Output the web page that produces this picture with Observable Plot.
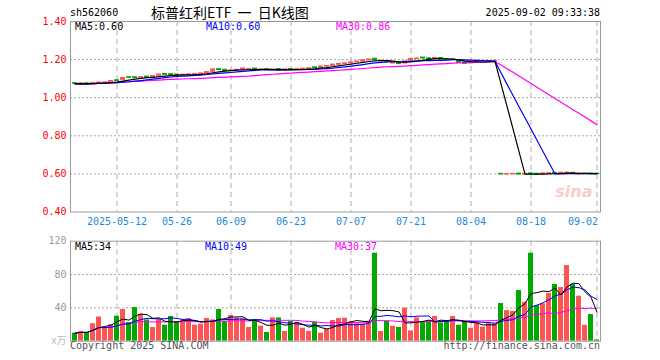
<!DOCTYPE html>
<html><head><meta charset="utf-8">
<script src="https://cdn.jsdelivr.net/npm/d3@7"></script>
<script src="https://cdn.jsdelivr.net/npm/@observablehq/plot@0.6"></script>
<style>
body{margin:0;background:#fff;}
#wrap{position:relative;width:660px;height:360px;overflow:hidden;font-family:"DejaVu Sans Mono",monospace;}
#wrap svg{position:absolute;left:0;}
.t{position:absolute;font-size:10px;line-height:12px;white-space:nowrap;font-family:"DejaVu Sans Mono",monospace;}
</style></head><body><div id="wrap"></div>
<script>
const dates = ["04-28","04-29","04-30","05-06","05-07","05-08","05-09","05-12","05-13","05-14","05-15","05-16","05-19","05-20","05-21","05-22","05-23","05-26","05-27","05-28","05-29","05-30","06-03","06-04","06-05","06-06","06-09","06-10","06-11","06-12","06-13","06-16","06-17","06-18","06-19","06-20","06-23","06-24","06-25","06-26","06-27","06-30","07-01","07-02","07-03","07-04","07-07","07-08","07-09","07-10","07-11","07-14","07-15","07-16","07-17","07-18","07-21","07-22","07-23","07-24","07-25","07-28","07-29","07-30","07-31","08-01","08-04","08-05","08-06","08-07","08-08","08-11","08-12","08-13","08-14","08-15","08-18","08-19","08-20","08-21","08-22","08-25","08-26","08-27","08-28","08-29","09-01","09-02"];
const open = [1.076,1.073,1.075,1.074,1.077,1.078,1.080,1.091,1.094,1.107,
1.107,1.104,1.110,1.107,1.116,1.124,1.123,1.121,1.117,1.120,
1.122,1.124,1.127,1.136,1.149,1.146,1.140,1.143,1.148,1.148,
1.152,1.145,1.149,1.145,1.150,1.144,1.150,1.147,1.150,1.152,
1.159,1.157,1.163,1.166,1.173,1.176,1.181,1.186,1.190,1.196,
1.204,1.191,1.192,1.180,1.181,1.180,1.196,1.203,1.210,1.206,
1.204,1.208,1.202,1.198,1.192,1.185,1.180,1.188,1.190,1.190,
1.191,0.600,0.597,0.598,0.601,0.597,0.602,0.600,0.598,0.601,
0.605,0.603,0.604,0.605,0.598,0.599,0.602,0.601];
const high = [1.077,1.077,1.076,1.079,1.081,1.082,1.089,1.094,1.105,1.110,
1.110,1.109,1.111,1.114,1.124,1.126,1.126,1.122,1.122,1.124,
1.126,1.129,1.136,1.150,1.152,1.149,1.145,1.148,1.156,1.154,
1.153,1.149,1.150,1.150,1.151,1.150,1.151,1.152,1.154,1.156,
1.161,1.165,1.168,1.176,1.179,1.182,1.186,1.191,1.198,1.203,
1.206,1.196,1.193,1.184,1.183,1.192,1.206,1.208,1.211,1.208,
1.210,1.209,1.204,1.203,1.193,1.186,1.190,1.192,1.193,1.194,
1.195,0.601,0.601,0.602,0.602,0.601,0.603,0.601,0.604,0.605,
0.606,0.608,0.609,0.606,0.602,0.603,0.603,0.602];
const low = [1.071,1.072,1.069,1.073,1.075,1.077,1.079,1.085,1.092,1.101,
1.101,1.103,1.104,1.106,1.115,1.117,1.116,1.114,1.116,1.119,
1.120,1.123,1.126,1.135,1.143,1.138,1.139,1.142,1.147,1.146,
1.143,1.144,1.142,1.144,1.142,1.143,1.144,1.146,1.149,1.151,
1.153,1.156,1.162,1.165,1.172,1.175,1.180,1.185,1.189,1.195,
1.196,1.190,1.184,1.178,1.173,1.179,1.195,1.202,1.203,1.200,
1.203,1.199,1.196,1.197,1.180,1.176,1.179,1.187,1.189,1.189,
1.190,0.596,0.596,0.597,0.596,0.596,0.597,0.596,0.597,0.600,
0.601,0.602,0.603,0.600,0.594,0.598,0.598,0.598];
const close = [1.073,1.075,1.071,1.077,1.079,1.080,1.087,1.088,1.103,1.105,
1.104,1.107,1.106,1.113,1.121,1.121,1.119,1.117,1.120,1.122,
1.124,1.127,1.134,1.148,1.146,1.141,1.143,1.146,1.153,1.150,
1.146,1.147,1.145,1.148,1.144,1.148,1.146,1.150,1.152,1.154,
1.156,1.163,1.166,1.173,1.177,1.180,1.185,1.189,1.196,1.200,
1.198,1.194,1.187,1.182,1.177,1.190,1.203,1.205,1.206,1.203,
1.208,1.201,1.198,1.201,1.184,1.178,1.188,1.190,1.191,1.192,
1.193,0.598,0.599,0.600,0.597,0.600,0.599,0.597,0.602,0.603,
0.603,0.606,0.606,0.601,0.600,0.601,0.600,0.600];
const volume = [9.6,11.6,10.4,21,29,16.4,19.6,30,38,22.4,
40.4,32.4,25.6,16.4,25.6,19.2,29.6,23.6,25.6,26.8,
19.2,20.4,27.2,25.6,38,23.6,30.8,27.6,26.8,16.4,
23.6,18,10.4,28,28,11.6,23.6,22,15.6,11.6,
22.8,9.6,14,24.8,27.2,27.6,23.2,21,20.4,24,
105.6,11.6,24,18,16.4,39.6,12.4,28,22.4,24.4,
29.6,22,24.4,29.6,19.2,23.6,15.6,22,16.8,21,
21,45.2,36.8,35.6,60.8,46.8,105.6,42.8,44.8,57.2,
68,64.4,90.8,68,54,19,32,1.5];
const tickDates = ["05-12","05-26","06-09","06-23","07-07","07-21","08-04","08-18","09-02"];
const tickLabels = ["2025-05-12","05-26","06-09","06-23","07-07","07-21","08-04","08-18","09-02"];
const priceTicks = [1.40,1.20,1.00,0.80,0.60,0.40];
const priceGrid = [1.20,1.00,0.80,0.60];
const volTicks = [120,80,40];
const volGrid = [80,40];

const RED = "#ff5454", GREEN = "#00a800", BLUE_TXT = "#1e88d8";
const rows = dates.map((d,i)=>({date:d, open:open[i], high:high[i], low:low[i], close:close[i], vol:volume[i], up: close[i] >= open[i]}));
const ups = rows.filter(r=>r.up), downs = rows.filter(r=>!r.up);
const xOpts = () => ({type:"band", domain:dates, range:[70,600], paddingInner:0.17, paddingOuter:0.05, axis:null});
const style = {fontFamily:"DejaVu Sans Mono, monospace", fontSize:"10px", background:"transparent", overflow:"visible"};
const dashed = {stroke:"#b0b0b0", strokeDasharray:"5,4"};
const dotted = {stroke:"#a8a8a8", strokeDasharray:"2,2"};

const pricePlot = Plot.plot({
  width:660, height:232, marginTop:21, marginBottom:20.5, marginLeft:70, marginRight:60,
  style, x:xOpts(), y:{domain:[0.4,1.4], axis:null},
  marks:[
    Plot.ruleY(priceGrid, dotted),
    Plot.ruleX(tickDates, dashed),
    Plot.text(["sina"], {frameAnchor:"bottom-right", lineAnchor:"middle", dx:-8, dy:-20, fill:"#f6cccc", fontSize:16, fontStyle:"italic", fontWeight:"bold", fontFamily:"DejaVu Sans"}),
    Plot.ruleX(ups, {x:"date", y1:"low", y2:"high", stroke:RED}),
    Plot.ruleX(downs, {x:"date", y1:"low", y2:"high", stroke:GREEN}),
    Plot.barY(ups, {x:"date", y1:d=>Math.min(d.open,d.close), y2:d=>Math.max(d.open,d.close), fill:RED, insetTop:-0.6, insetBottom:-0.6}),
    Plot.barY(downs, {x:"date", y1:d=>Math.min(d.open,d.close), y2:d=>Math.max(d.open,d.close), fill:GREEN, insetTop:-0.6, insetBottom:-0.6}),
    Plot.lineY(rows, Plot.windowY({k:30, anchor:"end", reduce:"mean"}, {x:"date", y:"close", stroke:"#ff00ff", strokeWidth:1.2})),
    Plot.lineY(rows, Plot.windowY({k:10, anchor:"end", reduce:"mean"}, {x:"date", y:"close", stroke:"#0000ff", strokeWidth:1.2})),
    Plot.lineY(rows, Plot.windowY({k:5, anchor:"end", reduce:"mean"}, {x:"date", y:"close", stroke:"#000000", strokeWidth:1.2})),
    Plot.frame({stroke:"#9a9a9a"}),
    Plot.text(priceTicks, {y:d=>d, text:d=>d.toFixed(2), frameAnchor:"left", textAnchor:"end", dx:-4, fill:"#ff0000"}),
    Plot.text(tickDates.slice(0,-1), {x:d=>d, text:(d,i)=>tickLabels[i], frameAnchor:"bottom", lineAnchor:"middle", dy:10, fill:BLUE_TXT}),
    Plot.text(tickDates.slice(-1), {x:d=>d, text:()=>tickLabels[tickLabels.length-1], frameAnchor:"bottom", lineAnchor:"middle", dy:10, textAnchor:"end", dx:1, fill:BLUE_TXT})
  ]
});

const volPlot = Plot.plot({
  width:660, height:128, marginTop:8.7, marginBottom:19.3, marginLeft:70, marginRight:60,
  style, x:xOpts(), y:{domain:[0,120], axis:null},
  marks:[
    Plot.ruleY(volGrid, dotted),
    Plot.ruleX(tickDates, dashed),
    Plot.barY(ups, {x:"date", y:"vol", fill:RED}),
    Plot.barY(downs, {x:"date", y:"vol", fill:GREEN}),
    Plot.lineY(rows, Plot.windowY({k:30, anchor:"end", reduce:"mean"}, {x:"date", y:"vol", stroke:"#ff00ff", strokeWidth:1})),
    Plot.lineY(rows, Plot.windowY({k:10, anchor:"end", reduce:"mean"}, {x:"date", y:"vol", stroke:"#0000ff", strokeWidth:1})),
    Plot.lineY(rows, Plot.windowY({k:5, anchor:"end", reduce:"mean"}, {x:"date", y:"vol", stroke:"#000000", strokeWidth:1})),
    Plot.frame({stroke:"#9a9a9a"}),
    Plot.text(volTicks, {y:d=>d, text:d=>String(d), frameAnchor:"left", textAnchor:"end", dx:-4, fill:"#999"}),
    Plot.text(["x万"], {frameAnchor:"bottom-left", lineAnchor:"middle", textAnchor:"end", dx:-4, fill:"#bbb", fontFamily:"Noto Sans CJK SC"})
  ]
});

const wrap = document.getElementById("wrap");
pricePlot.style.top = "0px";
volPlot.style.top = "232px";
wrap.appendChild(pricePlot);
wrap.appendChild(volPlot);

function addText(txt, css){
  const d = document.createElement("div");
  d.className = "t"; d.textContent = txt;
  Object.assign(d.style, css);
  wrap.appendChild(d);
}
addText("sh562060", {left:"70px", top:"7px", color:"#000"});
addText("标普红利ETF 一 日K线图", {left:"151px", top:"5px", fontSize:"14px", lineHeight:"15px", fontFamily:"'Noto Sans CJK SC', sans-serif", color:"#000", wordSpacing:"3px"});
addText("2025-09-02 09:33:38", {right:"60px", top:"7px", color:"#000"});
addText("MA5:0.60", {left:"75px", top:"21px", color:"#000"});
addText("MA10:0.60", {left:"206px", top:"21px", color:"#0000ff"});
addText("MA30:0.86", {left:"336px", top:"21px", color:"#ff00ff"});
addText("MA5:34", {left:"75px", top:"241px", color:"#000"});
addText("MA10:49", {left:"205px", top:"241px", color:"#0000ff"});
addText("MA30:37", {left:"335px", top:"241px", color:"#ff00ff"});
addText("Copyright 2025 SINA.COM", {left:"70px", top:"340px", color:"#555"});
addText("http://finance.sina.com.cn", {right:"60px", top:"340px", color:"#555"});
</script>
</body></html>
